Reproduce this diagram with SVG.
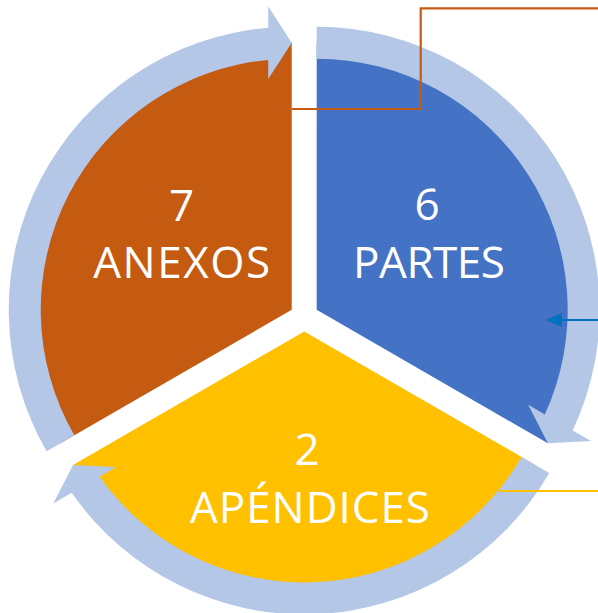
<svg xmlns="http://www.w3.org/2000/svg" width="598" height="613" viewBox="0 0 598 613">
  <style>
    .ring { fill: #B4C7E7; }
    .label { font-family: "Open Sans", "Liberation Sans", sans-serif; font-size: 44px; fill: #FFFFFF; text-anchor: middle; }
    .link { fill: none; stroke-width: 2.2; }
  </style>
  <defs>
    <marker id="arrowBlue" viewBox="0 0 16 14" refX="15" refY="7" markerWidth="16" markerHeight="14" markerUnits="userSpaceOnUse" orient="auto">
      <path d="M0 0 L16 7 L0 14 Z" fill="#0070C0"/>
    </marker>
  </defs>

  <!-- Segment: 6 PARTES (wedge runs under its circular arrow) -->
  <g id="partes">
    <path d="M316.67 309.8 L316.67 42.8 A267 267 0 0 1 547.89 443.3 Z" fill="#4472C4"/>
    <path class="ring" d="M316.67 26.8 A283 283 0 0 1 572.65 430.46 L591.08 441.1 L547.89 443.3 L528.21 404.8 L544.84 414.4 A251 251 0 0 0 316.67 58.8 Z"/>
    <text class="label" x="427" y="220">6</text>
    <text class="label" x="429" y="277.7" textLength="152">PARTES</text>
  </g>

  <!-- Segment: 2 APÉNDICES -->
  <g id="apendices">
    <path d="M304.2 331.4 L535.42 464.9 A267 267 0 0 1 72.98 464.9 Z" fill="#FFC000"/>
    <path class="ring" d="M549.28 472.9 A283 283 0 0 1 71.72 492.76 L53.29 503.4 L72.98 464.9 L116.16 467.1 L99.53 476.7 A251 251 0 0 0 521.57 456.9 Z"/>
    <text class="label" x="307" y="465">2</text>
    <text class="label" x="310" y="523.3" textLength="240">APÉNDICES</text>
  </g>

  <!-- Segment: 7 ANEXOS -->
  <g id="anexos">
    <path d="M291.73 309.8 L60.51 443.3 A267 267 0 0 1 291.73 42.8 Z" fill="#C55A11"/>
    <path class="ring" d="M46.65 451.3 A283 283 0 0 1 268.23 27.78 L268.23 6.5 L291.73 42.8 L268.23 79.1 L268.23 59.9 A251 251 0 0 0 74.36 435.3 Z"/>
    <text class="label" x="181.7" y="220.7">7</text>
    <text class="label" x="181.7" y="278.3" textLength="177">ANEXOS</text>
  </g>

  <!-- Callout lines -->
  <g id="connectors">
    <path class="link" d="M291.7 109 H420.7 V8.3 H598" stroke="#C55A11"/>
    <path class="link" d="M598 320 H547" stroke="#0070C0" marker-end="url(#arrowBlue)"/>
    <path class="link" d="M598 491 H499.3" stroke="#FFC000"/>
  </g>
</svg>
